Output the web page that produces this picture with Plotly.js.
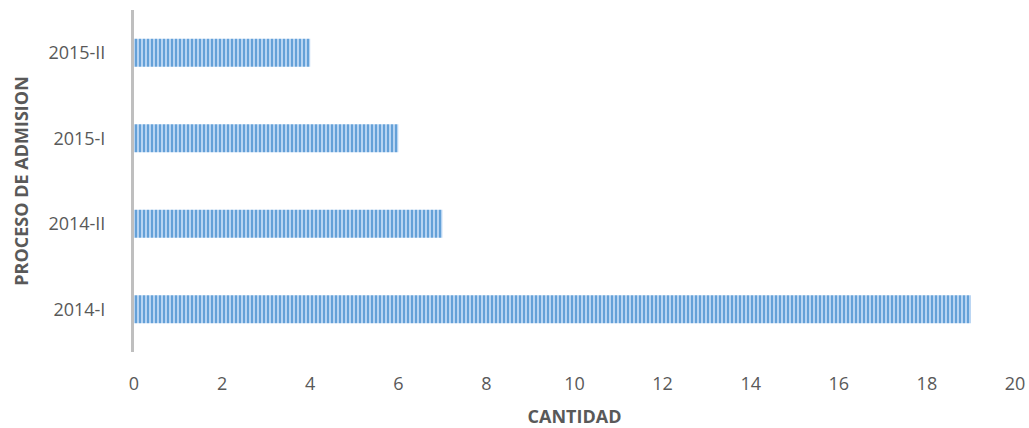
<!DOCTYPE html>
<html>
<head>
<meta charset="utf-8">
<script src="https://cdn.plot.ly/plotly-3.0.1.min.js"></script>
<style>html,body{margin:0;padding:0;background:#fff;}#chart{width:1029px;height:428px;}</style>
</head>
<body>
<div id="chart"></div>
<script>
const categories = ["2014-I", "2014-II", "2015-I", "2015-II"];
const values = [19, 7, 6, 4];
const xTicks = [0, 2, 4, 6, 8, 10, 12, 14, 16, 18, 20];

const trace = {
  type: "bar",
  orientation: "h",
  y: categories,
  x: values,
  width: 0.33,
  marker: {
    color: "#a9cbee",
    line: {width: 0},
    pattern: {shape: "|", fgcolor: "#5b9bd5", bgcolor: "#b7d4f2", size: 4, solidity: 0.45, fillmode: "replace"}
  },
  hoverinfo: "none"
};

const layout = {
  width: 1029, height: 428,
  margin: {l: 134, r: 14, t: 10, b: 76},
  paper_bgcolor: "#fff", plot_bgcolor: "#fff",
  font: {family: "Open Sans, Liberation Sans, sans-serif", color: "#595959", size: 18},
  showlegend: false,
  xaxis: {
    range: [0, 20], tickvals: xTicks, ticktext: xTicks.map(String),
    showgrid: false, zeroline: false, showline: false, ticks: "",
    ticklabelstandoff: 19, tickfont: {size: 18, color: "#595959"},
    title: {text: "<b>CANTIDAD</b>", font: {size: 18, color: "#595959"}, standoff: 18}
  },
  yaxis: {
    type: "category", categoryorder: "array", categoryarray: categories,
    showgrid: false, zeroline: false, showline: true, linecolor: "#bfbfbf", linewidth: 3,
    ticks: "", ticklabelstandoff: 22, tickfont: {size: 18, color: "#595959"},
    title: {text: "<b>PROCESO DE ADMISION</b>", font: {size: 18, color: "#595959"}, standoff: 16}
  }
};

Plotly.newPlot("chart", [trace], layout, {displayModeBar: false, staticPlot: true});
</script>
</body>
</html>
